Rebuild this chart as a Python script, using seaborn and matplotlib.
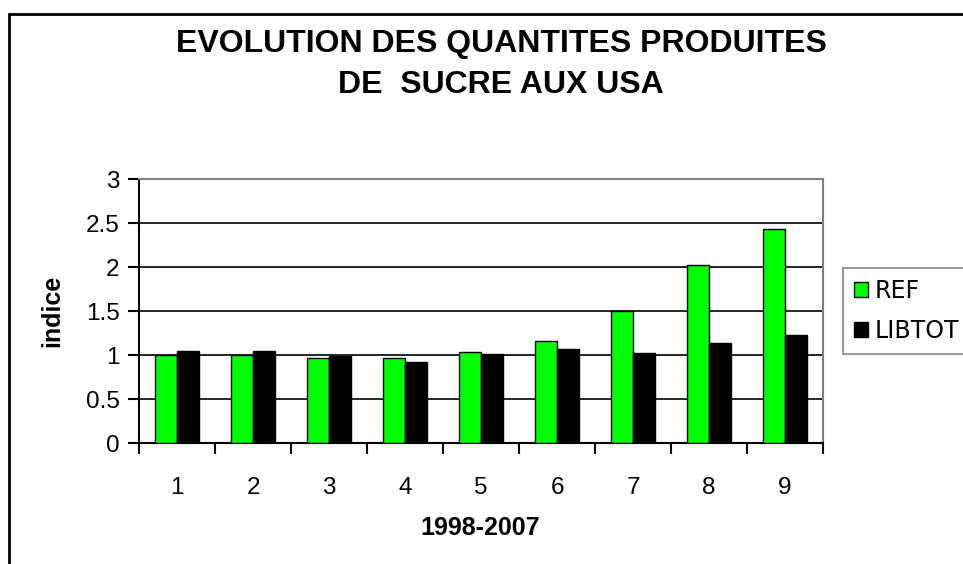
import matplotlib
matplotlib.use("Agg")
import matplotlib.pyplot as plt
import matplotlib.patches as mpatches
import pandas as pd
import seaborn as sns

# Data
annees = [1, 2, 3, 4, 5, 6, 7, 8, 9]
ref = [1.00, 1.00, 0.97, 0.97, 1.04, 1.16, 1.50, 2.02, 2.43]
libtot = [1.05, 1.05, 0.99, 0.92, 1.01, 1.07, 1.03, 1.14, 1.23]
series = ["REF", "LIBTOT"]
couleurs = ["#00ff00", "#000000"]

df = pd.DataFrame({
    "annee": annees * 2,
    "valeur": ref + libtot,
    "serie": ["REF"] * len(annees) + ["LIBTOT"] * len(annees),
})

sns.set_style("white")
plt.rcParams["font.family"] = ["Liberation Sans", "DejaVu Sans"]
plt.rcParams["text.color"] = "black"
plt.rcParams["xtick.color"] = "black"
plt.rcParams["ytick.color"] = "black"

W, H = 963, 564
fig = plt.figure(figsize=(W / 100, H / 100), dpi=100)
ax = fig.add_axes([139 / W, 1 - 443.3 / H, (823 - 139) / W, (443.3 - 179) / H])

sns.barplot(data=df, x="annee", y="valeur", hue="serie", hue_order=series,
            palette=couleurs, saturation=1, edgecolor="black", linewidth=1,
            width=0.58, gap=0, ax=ax, legend=False, zorder=3)

ax.set_ylim(0, 3)
ax.set_xlim(-0.5, len(annees) - 0.5)
ax.set_yticks([0, 0.5, 1, 1.5, 2, 2.5, 3])
ax.set_yticklabels(["0", "0.5", "1", "1.5", "2", "2.5", "3"], fontsize=17.5)
ax.set_xticks(range(len(annees)))
ax.set_xticklabels([str(a) for a in annees], fontsize=17.5)
ax.set_xticks([i - 0.5 for i in range(len(annees) + 1)], minor=True)
ax.tick_params(axis="x", which="major", bottom=True, length=0, pad=24)
ax.tick_params(axis="x", which="minor", bottom=True, length=8, width=1.5,
               color="black", direction="out")
ax.tick_params(axis="y", length=8, width=1.5, color="black", direction="out",
               pad=6, left=True)

ax.yaxis.grid(True, color="black", linewidth=1.2, zorder=1)
ax.set_axisbelow(True)
for s in ["left", "bottom"]:
    ax.spines[s].set_color("black")
    ax.spines[s].set_linewidth(1.5)
for s in ["top", "right"]:
    ax.spines[s].set_color("#808080")
    ax.spines[s].set_linewidth(1.5)

ax.set_xlabel("")
ax.set_ylabel("")
fig.text(52 / W, 1 - 311 / H, "indice", rotation=90, ha="center", va="center",
         fontsize=18, fontweight="bold")
fig.text(480 / W, 1 - 528 / H, "1998-2007", ha="center", va="center",
         fontsize=18, fontweight="bold")

fig.text(501 / W, 1 - 44 / H, "EVOLUTION DES QUANTITES PRODUITES", ha="center",
         va="center", fontsize=23, fontweight="bold")
fig.text(501 / W, 1 - 85 / H, "DE  SUCRE AUX USA", ha="center",
         va="center", fontsize=23, fontweight="bold")

# outer chart frame (cut by the image edge on right and bottom)
fig.patches.append(mpatches.Rectangle((9 / W, -0.05), 1.1, 1 - 14 / H + 0.05,
                                      transform=fig.transFigure, fill=False,
                                      edgecolor="black", linewidth=2))

handles = [mpatches.Patch(facecolor=c, edgecolor="black", linewidth=1) for c in couleurs]
leg = fig.legend(handles, series, loc="upper left",
                 bbox_to_anchor=(843 / W, 1 - 268 / H),
                 prop={"family": "DejaVu Sans", "size": 17},
                 frameon=True, fancybox=False, edgecolor="#808080",
                 handlelength=0.6, handleheight=0.6, handletextpad=0.3,
                 labelspacing=0.7, borderpad=0.45, borderaxespad=0)
leg.get_frame().set_linewidth(1.5)

fig.savefig("out.png", dpi=100)
